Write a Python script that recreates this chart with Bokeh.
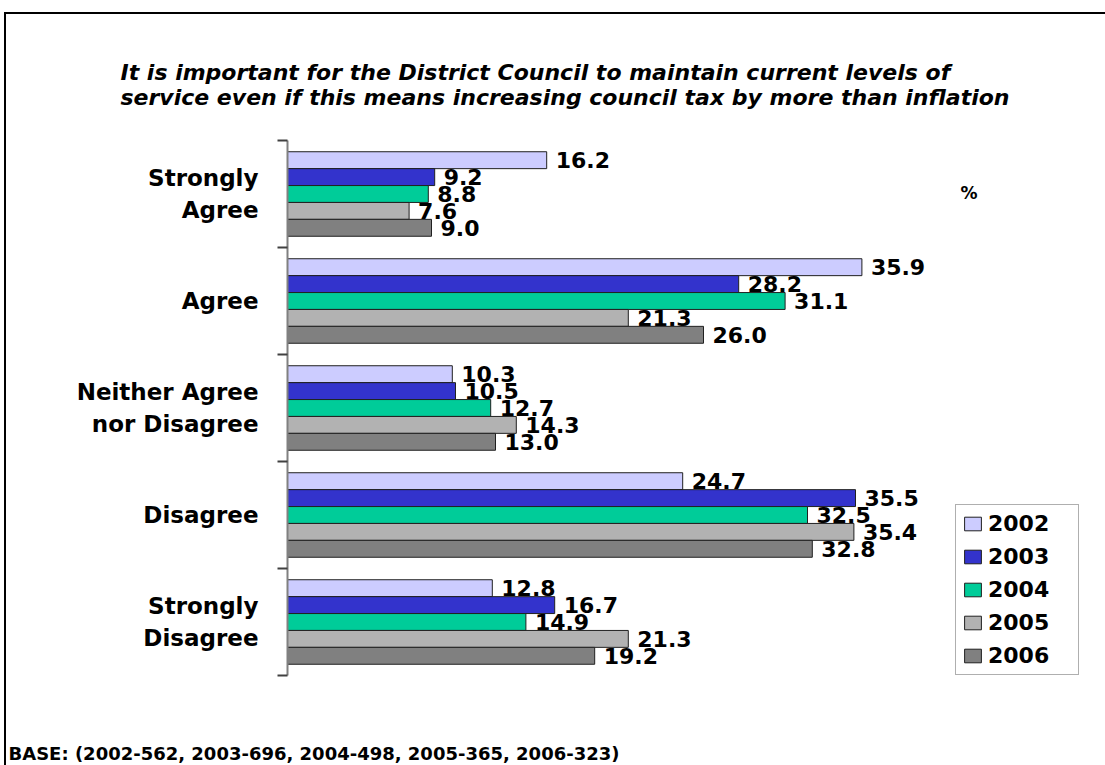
from bokeh.plotting import figure
from bokeh.models import (ColumnDataSource, Range1d, LinearAxis, FixedTicker, Legend, LegendItem,
                          Label, Title)
from bokeh.transform import dodge
from bokeh.core.properties import value
from bokeh.embed import file_html
from bokeh.resources import INLINE

categories = ["Strongly Agree", "Agree", "Neither Agree nor Disagree", "Disagree", "Strongly Disagree"]
axis_labels = ["Strongly\nAgree", "Agree", "Neither Agree\nnor Disagree", "Disagree", "Strongly\nDisagree"]
years = ["2002", "2003", "2004", "2005", "2006"]
v2002 = [16.2, 35.9, 10.3, 24.7, 12.8]
v2003 = [9.2, 28.2, 10.5, 35.5, 16.7]
v2004 = [8.8, 31.1, 12.7, 32.5, 14.9]
v2005 = [7.6, 21.3, 14.3, 35.4, 21.3]
v2006 = [9.0, 26.0, 13.0, 32.8, 19.2]
colors = ["#CCCCFF", "#3333CC", "#00CC99", "#B2B2B2", "#808080"]
title_lines = ["It is important for the District Council to maintain current levels of",
               "service even if this means increasing council tax by more than inflation"]
base_text = "BASE: (2002-562, 2003-696, 2004-498, 2005-365, 2006-323)"

n = len(categories)
centers = [n - 0.5 - i for i in range(n)]  # first category at top
series = [v2002, v2003, v2004, v2005, v2006]
data = {"cat": categories, "pos": centers}
for y, vals in zip(years, series):
    data["v" + y] = vals
    data["t" + y] = ["%.1f" % v for v in vals]
source = ColumnDataSource(data)

FONT = "DejaVu Sans"
W, H = 1105, 765
FL, FT, FB = 287, 140, 675
FR = FL + 800

p = figure(width=W, height=H, output_backend="svg", toolbar_location=None,
           y_range=Range1d(0, n), x_range=Range1d(0, 50),
           x_axis_location=None, y_axis_location=None,
           min_border_left=FL, min_border_right=W - FR, min_border_top=FT, min_border_bottom=H - FB)
p.outline_line_color = None
p.xgrid.visible = False
p.ygrid.visible = False
p.background_fill_color = "white"
p.border_fill_alpha = 0
p.styles = {
    "background": "linear-gradient(#000, #000) 4px 12px / 2px 100% no-repeat, "
                  "linear-gradient(#000, #000) 4px 12px / 100% 2px no-repeat, #fff"
}

tick_axis = LinearAxis(ticker=FixedTicker(ticks=list(range(n + 1))),
                       major_label_text_font_size="1px", major_label_text_color=None,
                       major_label_standoff=0,
                       major_tick_in=0, major_tick_out=10, minor_tick_line_color=None,
                       axis_line_color="#808080", axis_line_width=2,
                       major_tick_line_color="#404040", major_tick_line_width=2)
p.add_layout(tick_axis, "left")

cat_axis = LinearAxis(ticker=FixedTicker(ticks=centers, minor_ticks=[]),
                      axis_line_color=None, major_tick_line_color=None,
                      minor_tick_line_color=None, major_label_standoff=13,
                      major_label_text_font=FONT, major_label_text_font_style="bold",
                      major_label_text_font_size="23px", major_label_text_color="black",
                      major_label_overrides={c: l for c, l in zip(centers, axis_labels)})
p.add_layout(cat_axis, "left")

h = 0.158
offsets = [2 * h, h, 0, -h, -2 * h]
items = []
for y, off, c in zip(years, offsets, colors):
    r = p.hbar(y=dodge("pos", off), right="v" + y, left=0, height=h,
               source=source, fill_color=c, line_color="#202020", line_width=1)
    p.text(x="v" + y, y=dodge("pos", off), text="t" + y, source=source,
           x_offset=9, text_baseline="middle", text_align="left",
           text_font=value(FONT), text_font_style="bold", text_font_size="22px",
           text_color="black")
    items.append(LegendItem(label=y, renderers=[r]))

legend = Legend(items=items, location=(955 - FL, 0), border_line_color="#606060", border_line_width=1,
                label_text_font=FONT, label_text_font_style="bold", label_text_font_size="22px",
                label_text_color="black",
                glyph_width=21, glyph_height=17, label_height=17, label_width=84,
                spacing=8, padding=6, margin=0, label_standoff=5, background_fill_alpha=1)
p.add_layout(legend, "center")

p.add_layout(Label(x=960 - FL, y=FB - 192, x_units="screen", y_units="screen", text="%",
                   text_align="left", text_baseline="middle", text_font=FONT, text_color="black",
                   text_font_style="bold", text_font_size="17px"))

p.add_layout(Title(text="\n".join(title_lines), align="left", offset=120 - FL, standoff=62,
                   text_font=FONT, text_font_style="bold italic", text_font_size="22px",
                   text_line_height=1.0, text_color="black"), "above")

p.add_layout(Title(text="\n\n\n" + base_text, align="left", offset=8 - FL, standoff=4,
                   text_font=FONT, text_font_style="bold", text_font_size="18px",
                   text_line_height=1.0, text_color="black"), "below")

open("out.html", "w").write(file_html(p, INLINE))
